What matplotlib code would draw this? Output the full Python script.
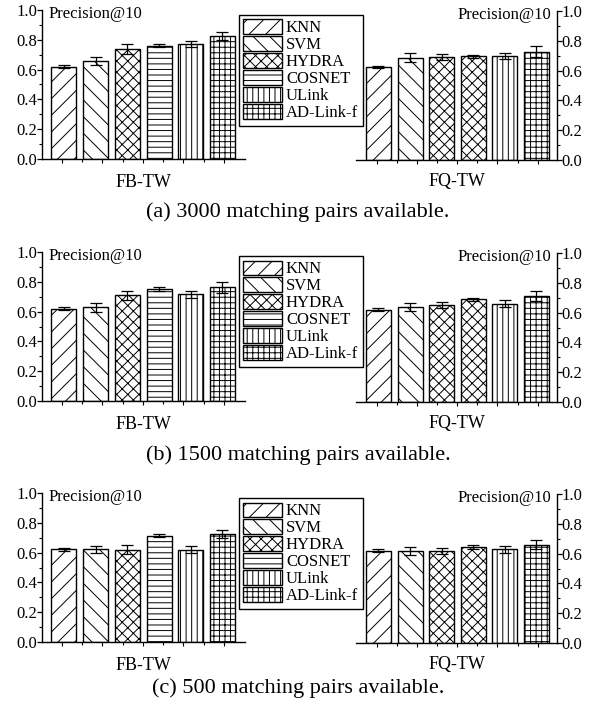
import numpy as np
import matplotlib.pyplot as plt

plt.rcParams['font.family'] = ['Liberation Serif', 'DejaVu Serif']
plt.rcParams['hatch.linewidth'] = 0.7
plt.rcParams['axes.linewidth'] = 1.0

metodos = ['KNN', 'SVM', 'HYDRA', 'COSNET', 'ULink', 'AD-Link-f']
# en FQ-TW la barra de COSNET sale con la trama cruzada, igual que en el original
tramas_fb = ['//', '\\\\', 'xxx', '---', '|||', '+++']
tramas_fq = ['//', '\\\\', 'xxx', 'xxx', '|||', '+++']

subtitulos = ['(a) 3000 matching pairs available.',
              '(b) 1500 matching pairs available.',
              '(c) 500 matching pairs available.']

# Precision@10 por metodo, FB-TW
fb_3000 = [0.620, 0.656, 0.737, 0.759, 0.770, 0.824]
fb_3000_err = [0.010, 0.028, 0.033, 0.010, 0.020, 0.028]
fb_1500 = [0.619, 0.628, 0.709, 0.751, 0.715, 0.762]
fb_1500_err = [0.010, 0.028, 0.031, 0.011, 0.021, 0.039]
fb_500 = [0.622, 0.622, 0.620, 0.714, 0.620, 0.725]
fb_500_err = [0.009, 0.024, 0.028, 0.011, 0.021, 0.025]

# Precision@10 por metodo, FQ-TW
fq_3000 = [0.625, 0.685, 0.694, 0.696, 0.696, 0.728]
fq_3000_err = [0.009, 0.030, 0.020, 0.011, 0.021, 0.039]
fq_1500 = [0.620, 0.638, 0.649, 0.689, 0.660, 0.714]
fq_1500_err = [0.009, 0.029, 0.020, 0.011, 0.022, 0.034]
fq_500 = [0.619, 0.615, 0.619, 0.646, 0.628, 0.661]
fq_500_err = [0.009, 0.027, 0.019, 0.012, 0.021, 0.031]

filas = [
    (fb_3000, fb_3000_err, fq_3000, fq_3000_err),
    (fb_1500, fb_1500_err, fq_1500, fq_1500_err),
    (fb_500, fb_500_err, fq_500, fq_500_err),
]

W, H = 597, 710
fig = plt.figure(figsize=(W / 100, H / 100), dpi=100)

# posiciones en pixeles (arriba, abajo) de cada fila
filas_izq = [(10, 159), (252, 401), (493, 642)]
filas_der = [(11, 160), (253, 402), (494, 643)]
subtitulo_y = [217, 460, 693]   # linea base
leyenda_y = [15, 256, 498]


def eje(x0, ancho, arriba, abajo):
    return fig.add_axes([x0 / W, 1 - abajo / H, ancho / W, (abajo - arriba) / H])


def dibujar(ax, valores, errores, tramas, lado):
    x = np.arange(len(valores))
    for i in range(len(valores)):
        ax.bar(x[i], valores[i], width=0.79, color='white', edgecolor='black',
               linewidth=1.0, hatch=tramas[i], label=metodos[i],
               yerr=errores[i], capsize=4,
               error_kw=dict(elinewidth=0.9, capthick=0.9, ecolor='black'))
    ax.set_ylim(0, 1.0)
    ax.set_yticks(np.arange(0, 1.01, 0.2))
    ax.set_yticks(np.arange(0.1, 1.0, 0.2), minor=True)
    ax.set_yticklabels(['%.1f' % v for v in np.arange(0, 1.01, 0.2)])
    marcas = np.linspace(-0.06, 5.04, 9)
    ax.set_xticks(marcas[::2])
    ax.set_xticks(marcas[1::2], minor=True)
    ax.set_xticklabels([])
    ax.tick_params(axis='x', which='major', direction='out', length=3, width=0.8)
    ax.tick_params(axis='x', which='minor', direction='out', length=2, width=0.8)
    ax.tick_params(axis='y', which='major', direction='out', length=3.5,
                   width=0.9, labelsize=12, pad=0)
    ax.tick_params(axis='y', which='minor', direction='out', length=2, width=0.8)
    ax.spines['top'].set_visible(False)
    if lado == 'izq':
        ax.set_xlim(-0.69, 5.71)
        ax.spines['right'].set_visible(False)
        ax.set_xlabel('FB-TW', fontsize=13, labelpad=4)
        ax.text(0.03, 0.97, 'Precision@10', transform=ax.transAxes,
                ha='left', va='center', fontsize=12)
    else:
        ax.set_xlim(-0.71, 5.65)
        ax.spines['left'].set_visible(False)
        ax.yaxis.tick_right()
        ax.tick_params(axis='y', which='both', left=False, right=True)
        ax.set_xlabel('FQ-TW', fontsize=13, labelpad=3)
        ax.text(0.97, 0.97, 'Precision@10', transform=ax.transAxes,
                ha='right', va='center', fontsize=12)


for k, (fb, fb_err, fq, fq_err) in enumerate(filas):
    ax1 = eje(42, 203, *filas_izq[k])
    dibujar(ax1, fb, fb_err, tramas_fb, 'izq')
    ax2 = eje(356, 201, *filas_der[k])
    dibujar(ax2, fq, fq_err, tramas_fq, 'der')

    manijas, etiquetas = ax1.get_legend_handles_labels()
    leg = fig.legend(manijas, etiquetas, loc='upper left',
                     bbox_to_anchor=(239 / W, 1 - leyenda_y[k] / H),
                     fontsize=12, frameon=True, fancybox=False,
                     edgecolor='black', framealpha=1, borderaxespad=0,
                     handlelength=2.3, handleheight=0.96, labelspacing=0.0,
                     handletextpad=0.25, borderpad=0.27)
    leg.get_frame().set_linewidth(1.0)

    fig.text(298 / W, 1 - subtitulo_y[k] / H, subtitulos[k], ha='center',
             va='baseline', fontsize=16)

fig.savefig('out.png', dpi=100)
